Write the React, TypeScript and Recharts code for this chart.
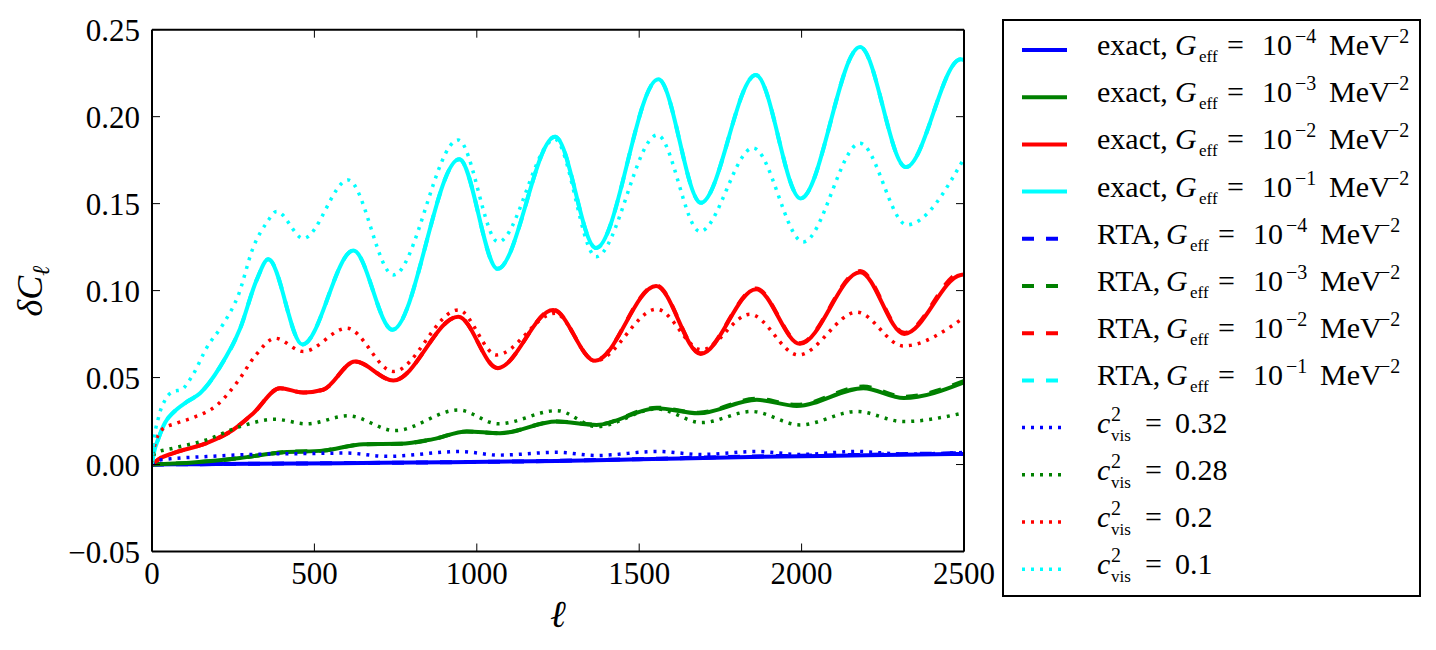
import React from 'react';
import { LineChart, Line, XAxis, YAxis } from 'recharts';

// ---------- data (ℓ, δC_ℓ) ----------
const xTicks = [0, 500, 1000, 1500, 2000, 2500];
const yTicks = [-0.05, 0, 0.05, 0.1, 0.15, 0.2, 0.25];

const exactBlue = [[0,0],[150,0.0002],[300,0.0004],[579,0.0008],[900,0.0013],[1246,0.002],[1500,0.003],[1841,0.0044],[2200,0.0053],[2500,0.0061]];
const exactGreen = [[0,0],[117,0.001],[271,0.0037],[404,0.0071],[527,0.008],[651,0.0117],[764,0.0119],[866,0.0146],[969,0.019],[1071,0.018],[1246,0.0247],[1369,0.0228],[1554,0.0324],[1682,0.0295],[1862,0.0372],[1985,0.0337],[2190,0.0439],[2314,0.0382],[2500,0.0472]];
const exactRed = [[0,0],[20,0.003],[66,0.0066],[168,0.0123],[250,0.02],[312,0.0295],[394,0.0439],[466,0.0414],[527,0.043],[625,0.0592],[743,0.0483],[943,0.085],[1064,0.0554],[1235,0.0889],[1364,0.0596],[1552,0.1027],[1689,0.0636],[1860,0.1008],[1995,0.0694],[2180,0.1106],[2316,0.0751],[2490,0.109],[2500,0.1092]];
const exactCyan = [[0,0],[5,0.006],[20,0.015],[40,0.024],[66,0.03],[107,0.036],[148,0.041],[209,0.056],[271,0.078],[322,0.106],[358,0.118],[463,0.069],[620,0.123],[740,0.0775],[946,0.1755],[1064,0.1125],[1241,0.1885],[1367,0.1245],[1559,0.2215],[1690,0.1505],[1859,0.224],[1997,0.153],[2180,0.24],[2321,0.171],[2490,0.233],[2500,0.2325]];

const rtaBlue = [[0,0],[300,0.0004],[579,0.0008],[900,0.0013],[1246,0.0021],[1500,0.0031],[1841,0.0046],[2200,0.0056],[2500,0.0066]];
const rtaGreen = [[0,0],[117,0.001],[271,0.0037],[404,0.0071],[527,0.008],[651,0.0117],[764,0.0119],[866,0.0146],[969,0.019],[1071,0.018],[1246,0.0248],[1369,0.023],[1554,0.0327],[1682,0.0298],[1862,0.0378],[1985,0.0343],[2190,0.0448],[2314,0.039],[2500,0.048]];
const rtaRed = [[0,0],[20,0.003],[66,0.0066],[168,0.0123],[250,0.02],[312,0.0295],[394,0.0439],[466,0.0414],[527,0.043],[625,0.0592],[743,0.0483],[943,0.085],[1064,0.0555],[1235,0.089],[1364,0.0598],[1552,0.103],[1689,0.064],[1860,0.1012],[1995,0.0698],[2180,0.1112],[2316,0.0757],[2490,0.1105],[2500,0.1107]];
const rtaCyan = [[0,0],[5,0.006],[20,0.015],[40,0.024],[66,0.03],[107,0.036],[148,0.041],[209,0.056],[271,0.078],[322,0.106],[358,0.118],[463,0.069],[620,0.123],[740,0.0775],[946,0.1755],[1064,0.1125],[1241,0.1885],[1367,0.1245],[1559,0.2215],[1690,0.1505],[1859,0.224],[1997,0.153],[2180,0.24],[2321,0.171],[2490,0.233],[2500,0.2325]];

const visBlue = [[0,0],[20,0.0025],[168,0.0046],[373,0.0061],[476,0.0063],[600,0.0066],[723,0.0047],[948,0.0075],[1066,0.0054],[1246,0.007],[1369,0.0052],[1554,0.0075],[1692,0.0058],[1862,0.0075],[1995,0.0058],[2170,0.0075],[2313,0.006],[2500,0.0069]];
const visGreen = [[0,0],[9,0.0065],[66,0.0094],[168,0.0142],[271,0.0218],[379,0.026],[476,0.0234],[604,0.028],[748,0.0195],[943,0.0314],[1066,0.0234],[1246,0.031],[1369,0.0218],[1554,0.032],[1692,0.0241],[1846,0.0305],[1995,0.0228],[2170,0.0305],[2313,0.0247],[2500,0.0297]];
const visRed = [[0,0],[4,0.0075],[30,0.02],[76,0.0238],[127,0.027],[199,0.034],[261,0.047],[320,0.063],[379,0.0726],[466,0.065],[600,0.0784],[743,0.0535],[943,0.0889],[1061,0.063],[1241,0.087],[1364,0.0595],[1554,0.0893],[1692,0.066],[1841,0.0864],[1990,0.063],[2170,0.0876],[2313,0.0682],[2500,0.0845]];
const visCyan = [[0,0],[4,0.01],[20,0.027],[40,0.037],[66,0.042],[90,0.043],[127,0.052],[168,0.067],[220,0.081],[265,0.097],[312,0.125],[353,0.139],[384,0.1455],[466,0.13],[604,0.1636],[743,0.109],[943,0.1866],[1066,0.128],[1240,0.187],[1367,0.1195],[1556,0.1895],[1687,0.134],[1851,0.182],[2005,0.128],[2180,0.1847],[2324,0.1378],[2500,0.176]];

// ---------- styling ----------
const BLUE = '#0000ff';
const GREEN = '#008000';
const RED = '#ff0000';
const CYAN = '#00ffff';
const FONT = 'Liberation Serif, DejaVu Serif, serif';

const W = 1436;
const H = 650;
const PLOT_L = 152;
const PLOT_R = 964;
const PLOT_T = 29.7;
const PLOT_B = 551.5;
const Y_AXIS_W = 100;
const X_AXIS_H = 50;
const AUX = 10;

const DASHED = '12 12';
const DOTTED = '3 6';

type Series = {
  key: string;
  pts: number[][];
  color: string;
  kind: 'exact' | 'RTA' | 'vis';
  label: string;
};

const series: Series[] = [
  { key: 'exactBlue', pts: exactBlue, color: BLUE, kind: 'exact', label: '\u22124' },
  { key: 'exactGreen', pts: exactGreen, color: GREEN, kind: 'exact', label: '\u22123' },
  { key: 'exactRed', pts: exactRed, color: RED, kind: 'exact', label: '\u22122' },
  { key: 'exactCyan', pts: exactCyan, color: CYAN, kind: 'exact', label: '\u22121' },
  { key: 'rtaBlue', pts: rtaBlue, color: BLUE, kind: 'RTA', label: '\u22124' },
  { key: 'rtaGreen', pts: rtaGreen, color: GREEN, kind: 'RTA', label: '\u22123' },
  { key: 'rtaRed', pts: rtaRed, color: RED, kind: 'RTA', label: '\u22122' },
  { key: 'rtaCyan', pts: rtaCyan, color: CYAN, kind: 'RTA', label: '\u22121' },
  { key: 'visBlue', pts: visBlue, color: BLUE, kind: 'vis', label: '0.32' },
  { key: 'visGreen', pts: visGreen, color: GREEN, kind: 'vis', label: '0.28' },
  { key: 'visRed', pts: visRed, color: RED, kind: 'vis', label: '0.2' },
  { key: 'visCyan', pts: visCyan, color: CYAN, kind: 'vis', label: '0.1' },
];

const toData = (pts: number[][]) => pts.map(([l, v]) => ({ l, v }));
const dashOf = (k: string) => (k === 'exact' ? undefined : k === 'RTA' ? DASHED : DOTTED);
const widthOf = (k: string) => (k === 'vis' ? 3.5 : 4);

const fmtY = (v: number) => {
  const s = Math.abs(v).toFixed(2);
  return v < -1e-9 ? '\u2212' + s : s;
};

// ---------- legend ----------
const LEG = { x: 1003, y: 20, w: 417, h: 576, row0: 50, step: 47.2, lx1: 1022, lx2: 1067, tx: 1097 };
const MAIN = 30;
const SUP = 20;
const SUB = 17;
const textStyle = { fontFamily: FONT };

function LegendText({ s, y }: { s: Series; y: number }) {
  const base = y + 5;
  if (s.kind === 'vis') {
    const x = LEG.tx;
    return (
      <text fontSize={MAIN} fill="#000" style={textStyle}>
        <tspan x={x} y={base} fontStyle="italic">c</tspan>
        <tspan x={x + 14} y={base - 12} fontSize={SUP}>2</tspan>
        <tspan x={x + 14} y={base + 8} fontSize={SUB}>vis</tspan>
        <tspan x={x + 48} y={base}>=</tspan>
        <tspan x={x + 78} y={base}>{s.label}</tspan>
      </text>
    );
  }
  const g = s.kind === 'exact' ? 1175 : 1166;
  return (
    <text fontSize={MAIN} fill="#000" style={textStyle}>
      <tspan x={LEG.tx} y={base}>{s.kind + ','}</tspan>
      <tspan x={g} y={base} fontStyle="italic">G</tspan>
      <tspan x={g + 24} y={base + 7} fontSize={SUB}>eff</tspan>
      <tspan x={g + 52} y={base}>=</tspan>
      <tspan x={g + 87} y={base}>10</tspan>
      <tspan x={g + 120} y={base - 12} fontSize={SUP}>{s.label}</tspan>
      <tspan x={g + 154} y={base}>MeV</tspan>
      <tspan x={g + 213} y={base - 12} fontSize={SUP}>{'\u22122'}</tspan>
    </text>
  );
}

function Overlay() {
  return (
    <svg width={W} height={H} style={{ position: 'absolute', left: 0, top: 0, pointerEvents: 'none' }}>
      <rect x={LEG.x} y={LEG.y} width={LEG.w} height={LEG.h} fill="#fff" stroke="#000" strokeWidth={2} />
      {series.map((s, i) => {
        const y = LEG.row0 + i * LEG.step;
        return (
          <g key={s.key}>
            <line x1={LEG.lx1} x2={LEG.lx2} y1={y} y2={y} stroke={s.color} strokeWidth={widthOf(s.kind)} strokeDasharray={dashOf(s.kind)} />
            <LegendText s={s} y={y} />
          </g>
        );
      })}
      {/* axis titles */}
      <text x={(PLOT_L + PLOT_R) / 2} y={627} textAnchor="middle" fontSize={38} fontStyle="italic" fill="#000" style={textStyle}>
        {'\u2113'}
      </text>
      <text transform="translate(42,291) rotate(-90)" textAnchor="middle" fontSize={36} fill="#000" style={textStyle}>
        <tspan fontStyle="italic">{'\u03b4C'}</tspan>
        <tspan fontSize={24} dy={7} fontStyle="italic">{'\u2113'}</tspan>
      </text>
    </svg>
  );
}

export default function App() {
  const axisLine = { stroke: '#000', strokeWidth: 2 };
  const tickLine = { stroke: '#000', strokeWidth: 1 };
  const tickStyle = { fill: '#000', fontSize: 31, fontFamily: FONT, style: { fontFamily: FONT } };
  return (
    <div style={{ position: 'absolute', left: 0, top: 0, width: W, height: H, background: '#fff', fontFamily: FONT }}>
      <LineChart
        width={W}
        height={H}
        style={{ fontFamily: FONT }}
        margin={{
          top: PLOT_T - AUX,
          right: W - PLOT_R - AUX,
          bottom: H - PLOT_B - X_AXIS_H,
          left: PLOT_L - Y_AXIS_W,
        }}
      >
        <XAxis
          xAxisId="b"
          type="number"
          dataKey="l"
          orientation="bottom"
          domain={[0, 2500]}
          ticks={xTicks}
          interval={0}
          allowDataOverflow
          height={X_AXIS_H}
          tickSize={-8}
          tickMargin={18}
          axisLine={axisLine}
          tickLine={tickLine}
          tick={tickStyle}
        />
        <XAxis
          xAxisId="t"
          type="number"
          dataKey="l"
          orientation="top"
          domain={[0, 2500]}
          ticks={xTicks}
          interval={0}
          allowDataOverflow
          height={AUX}
          tickSize={-8}
          tickFormatter={() => ''}
          axisLine={axisLine}
          tickLine={tickLine}
        />
        <YAxis
          yAxisId="l"
          type="number"
          orientation="left"
          domain={[-0.05, 0.25]}
          ticks={yTicks}
          interval={0}
          allowDataOverflow
          width={Y_AXIS_W}
          tickSize={-8}
          tickMargin={20}
          tickFormatter={fmtY}
          axisLine={axisLine}
          tickLine={tickLine}
          tick={tickStyle}
        />
        <YAxis
          yAxisId="r"
          type="number"
          orientation="right"
          domain={[-0.05, 0.25]}
          ticks={yTicks}
          interval={0}
          allowDataOverflow
          width={AUX}
          tickSize={-8}
          tickFormatter={() => ''}
          axisLine={axisLine}
          tickLine={tickLine}
        />
        {series.map((s) => (
          <Line
            key={s.key}
            xAxisId="b"
            yAxisId="l"
            data={toData(s.pts)}
            dataKey="v"
            name={s.key}
            type="monotone"
            stroke={s.color}
            strokeWidth={widthOf(s.kind)}
            strokeDasharray={dashOf(s.kind)}
            dot={false}
            activeDot={false}
            isAnimationActive={false}
          />
        ))}
        {/* invisible helper so the mirrored top/right axes get a domain */}
        <Line xAxisId="t" yAxisId="r" data={toData(exactBlue)} dataKey="v" stroke="none" dot={false} activeDot={false} isAnimationActive={false} legendType="none" />
      </LineChart>
      <Overlay />
    </div>
  );
}
